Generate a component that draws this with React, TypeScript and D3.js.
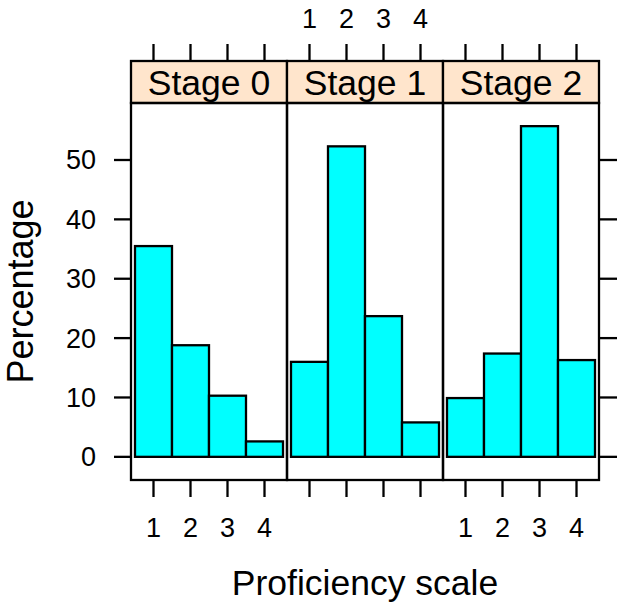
import React, { useRef, useEffect } from "react";
import * as d3 from "d3";

const stages = ["Stage 0", "Stage 1", "Stage 2"];
const levels = [1, 2, 3, 4];
const stage0 = [35.5, 18.8, 10.3, 2.6];
const stage1 = [16.0, 52.3, 23.7, 5.8];
const stage2 = [9.9, 17.4, 55.7, 16.3];
const yTicks = [0, 10, 20, 30, 40, 50];

const seriesByStage = [stage0, stage1, stage2];

const width = 624;
const height = 612;

const App: React.FC = () => {
  const svgRef = useRef<SVGSVGElement | null>(null);

  useEffect(() => {
    if (!svgRef.current) return;

    const left = 131;
    const panelW = 156;
    const stripTop = 61;
    const stripBottom = 103;
    const panelBottom = 480;
    const tickLen = 17;
    const lw = 2.3;
    const font = "Arial, 'Liberation Sans', sans-serif";

    const svg = d3.select(svgRef.current);
    svg.selectAll("*").remove(); // Clear previous renders

    const y = d3.scaleLinear().domain([-3.9, 59.6]).range([panelBottom, stripBottom]);

    stages.forEach((stage, i) => {
      const x0 = left + i * panelW;
      const x = d3.scaleLinear().domain([0.392, 4.608]).range([x0, x0 + panelW]);
      const g = svg.append("g");

      // bars
      g.selectAll("rect")
        .data(seriesByStage[i])
        .enter().append("rect")
        .attr("x", (_, j) => x(levels[j] - 0.5))
        .attr("width", (_, j) => x(levels[j] + 0.5) - x(levels[j] - 0.5))
        .attr("y", d => y(d))
        .attr("height", d => y(0) - y(d))
        .attr("fill", "#00FFFF")
        .attr("stroke", "#000")
        .attr("stroke-width", lw);

      // strip
      g.append("rect")
        .attr("x", x0)
        .attr("y", stripTop)
        .attr("width", panelW)
        .attr("height", stripBottom - stripTop)
        .attr("fill", "#FFE5CC")
        .attr("stroke", "#000")
        .attr("stroke-width", lw);

      g.append("text")
        .attr("x", x0 + panelW / 2)
        .attr("y", 95)
        .attr("text-anchor", "middle")
        .style("font", `35.5px ${font}`)
        .text(stage);

      // panel border
      g.append("rect")
        .attr("x", x0)
        .attr("y", stripBottom)
        .attr("width", panelW)
        .attr("height", panelBottom - stripBottom)
        .attr("fill", "none")
        .attr("stroke", "#000")
        .attr("stroke-width", lw);

      // top & bottom ticks
      const ticks = g.append("g").attr("stroke", "#000").attr("stroke-width", lw);
      levels.forEach(l => {
        ticks.append("line")
          .attr("x1", x(l)).attr("x2", x(l))
          .attr("y1", panelBottom).attr("y2", panelBottom + tickLen);
        ticks.append("line")
          .attr("x1", x(l)).attr("x2", x(l))
          .attr("y1", stripTop).attr("y2", stripTop - tickLen);
      });

      // labels alternate: bottom for panels 0 and 2, top for panel 1
      const labelY = i === 1 ? 28 : 537;
      g.selectAll("text.tick")
        .data(levels)
        .enter().append("text")
        .attr("class", "tick")
        .attr("x", d => x(d))
        .attr("y", labelY)
        .attr("text-anchor", "middle")
        .style("font", `27px ${font}`)
        .text(d => d);
    });

    // y axis ticks left and right
    const right = left + 3 * panelW;
    const yAxis = svg.append("g");
    yTicks.forEach(t => {
      yAxis.append("line")
        .attr("x1", left - tickLen).attr("x2", left)
        .attr("y1", y(t)).attr("y2", y(t))
        .attr("stroke", "#000").attr("stroke-width", lw);
      yAxis.append("line")
        .attr("x1", right).attr("x2", right + tickLen + 1)
        .attr("y1", y(t)).attr("y2", y(t))
        .attr("stroke", "#000").attr("stroke-width", lw);
      yAxis.append("text")
        .attr("x", 96)
        .attr("y", y(t))
        .attr("dy", "0.35em")
        .attr("text-anchor", "end")
        .style("font", `27px ${font}`)
        .text(t);
    });

    // axis titles
    svg.append("text")
      .attr("x", (left + right) / 2)
      .attr("y", 595)
      .attr("text-anchor", "middle")
      .style("font", `35.5px ${font}`)
      .text("Proficiency scale");

    svg.append("text")
      .attr("transform", `translate(33,${(stripBottom + panelBottom) / 2}) rotate(-90)`)
      .attr("text-anchor", "middle")
      .style("font", `36px ${font}`)
      .text("Percentage");
  }, []);

  return (
    <svg
      ref={svgRef}
      width={width}
      height={height}
      style={{ position: "absolute", left: 0, top: 0, background: "#fff" }}
    ></svg>
  );
};

export default App;
